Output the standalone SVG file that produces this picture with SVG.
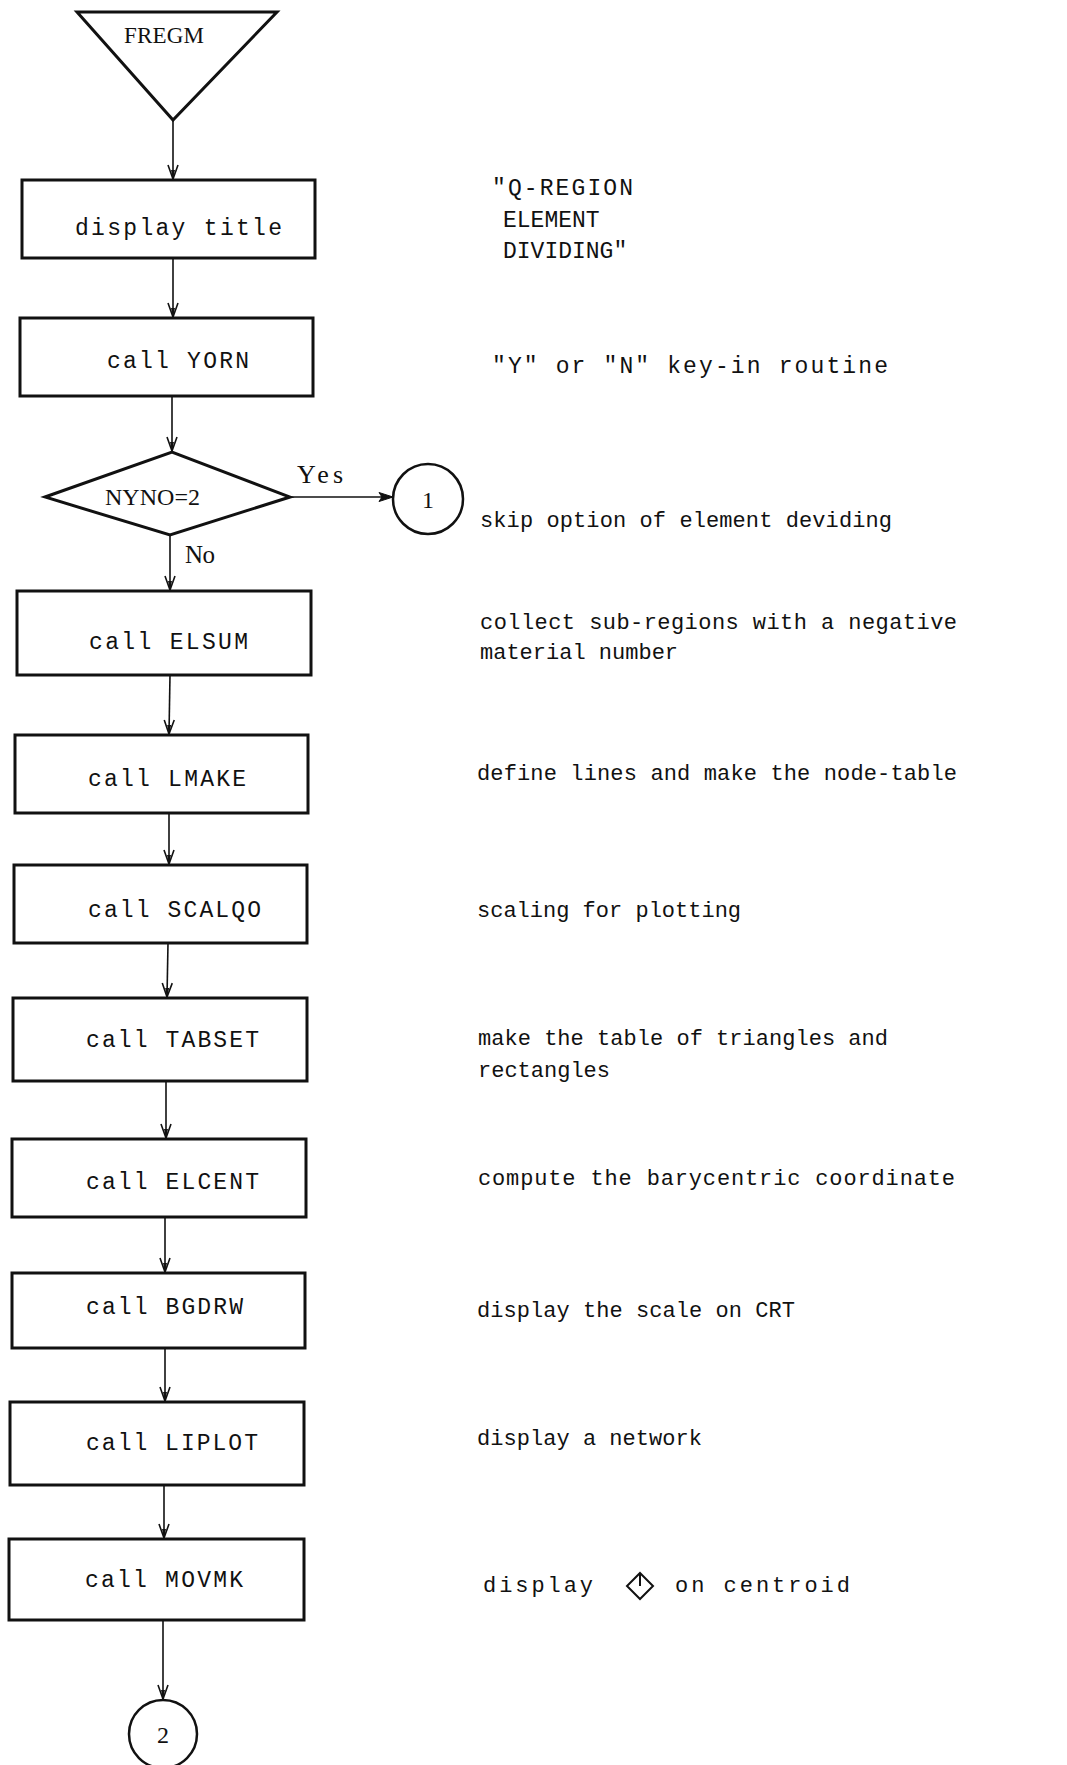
<svg xmlns="http://www.w3.org/2000/svg" width="1067" height="1765" viewBox="0 0 1067 1765">
<style>
.shape{fill:#fff;stroke:#111;stroke-width:3}
.circ{fill:#fff;stroke:#111;stroke-width:2.5}
.conn{fill:none;stroke:#111;stroke-width:1.6}
.mono{font-family:"Liberation Mono","DejaVu Sans Mono",monospace;fill:#111}
.box{font-size:23px}
.note{font-size:22px}
.noteW{font-size:23px}
.serif{font-family:"Liberation Serif","DejaVu Serif",serif;fill:#111}
</style>
<defs>
<marker id="arr" viewBox="0 0 16 12" refX="15" refY="6" markerWidth="16" markerHeight="12" markerUnits="userSpaceOnUse" orient="auto">
<path d="M1,1 L15,6 L1,11" fill="none" stroke="#111" stroke-width="1.6"/>
<path d="M6,4 L15,6 L6,8 Z" fill="#111"/>
</marker>
<marker id="arrR" viewBox="0 0 16 12" refX="15" refY="6" markerWidth="16" markerHeight="12" markerUnits="userSpaceOnUse" orient="auto">
<path d="M1,1.5 L15,6 L1,10.5 L4,6 Z" fill="#111" stroke="#111" stroke-width="1"/>
</marker>
</defs>
<rect width="1067" height="1765" fill="#fff"/>

<g id="connectors">
<line class="conn" x1="173" y1="120" x2="173" y2="179" marker-end="url(#arr)"/>
<line class="conn" x1="173" y1="258" x2="173" y2="317" marker-end="url(#arr)"/>
<line class="conn" x1="172" y1="396" x2="172" y2="451" marker-end="url(#arr)"/>
<line class="conn" x1="290" y1="497" x2="393" y2="497" marker-end="url(#arrR)"/>
<line class="conn" x1="170" y1="535" x2="170" y2="590" marker-end="url(#arr)"/>
<line class="conn" x1="170" y1="675" x2="169" y2="734" marker-end="url(#arr)"/>
<line class="conn" x1="169" y1="813" x2="169" y2="864" marker-end="url(#arr)"/>
<line class="conn" x1="168" y1="943" x2="167" y2="997" marker-end="url(#arr)"/>
<line class="conn" x1="166" y1="1081" x2="166" y2="1138" marker-end="url(#arr)"/>
<line class="conn" x1="165" y1="1217" x2="165" y2="1272" marker-end="url(#arr)"/>
<line class="conn" x1="165" y1="1348" x2="165" y2="1401" marker-end="url(#arr)"/>
<line class="conn" x1="164" y1="1485" x2="164" y2="1538" marker-end="url(#arr)"/>
<line class="conn" x1="163" y1="1620" x2="163" y2="1699" marker-end="url(#arr)"/>
<text class="serif" x="297" y="483" font-size="26" textLength="46">Yes</text>
<text class="serif" x="185" y="563" font-size="25" textLength="30">No</text>
</g>

<g id="start">
<polygon class="shape" points="77,12 277,12 173,120"/>
<text class="serif" x="124" y="43" font-size="23" textLength="80">FREGM</text>
</g>

<g id="display_title">
<rect class="shape" x="22" y="180" width="293" height="78"/>
<text class="mono box" x="75" y="235" textLength="207">display title</text>
</g>
<g id="note_title" class="mono noteW">
<text x="492" y="195" textLength="141">"Q-REGION</text>
<text x="503" y="227">ELEMENT</text>
<text x="503" y="258">DIVIDING"</text>
</g>

<g id="call_yorn">
<rect class="shape" x="20" y="318" width="293" height="78"/>
<text class="mono box" x="107" y="368" textLength="142">call YORN</text>
</g>
<text id="note_yorn" class="mono noteW" x="492" y="373" textLength="396">"Y" or "N" key-in routine</text>

<g id="decision">
<polygon class="shape" points="45,497 172,452 290,497 170,535"/>
<text class="serif" x="105" y="505" font-size="24" textLength="95">NYNO=2</text>
</g>

<g id="connector1">
<circle class="circ" cx="428" cy="499" r="35"/>
<text class="serif" x="428" y="508" font-size="24" text-anchor="middle">1</text>
</g>
<text id="note_skip" class="mono note" x="480" y="527" textLength="412">skip option of element deviding</text>

<g id="call_elsum">
<rect class="shape" x="17" y="591" width="294" height="84"/>
<text class="mono box" x="89" y="649" textLength="159">call ELSUM</text>
</g>
<g id="note_elsum" class="mono note">
<text x="480" y="629" textLength="477">collect sub-regions with a negative</text>
<text x="480" y="659">material number</text>
</g>

<g id="call_lmake">
<rect class="shape" x="15" y="735" width="293" height="78"/>
<text class="mono box" x="88" y="786" textLength="158">call LMAKE</text>
</g>
<text id="note_lmake" class="mono note" x="477" y="780" textLength="480">define lines and make the node-table</text>

<g id="call_scalqo">
<rect class="shape" x="14" y="865" width="293" height="78"/>
<text class="mono box" x="88" y="917" textLength="173">call SCALQO</text>
</g>
<text id="note_scalqo" class="mono note" x="477" y="917">scaling for plotting</text>

<g id="call_tabset">
<rect class="shape" x="13" y="998" width="294" height="83"/>
<text class="mono box" x="86" y="1047" textLength="173">call TABSET</text>
</g>
<g id="note_tabset" class="mono note">
<text x="478" y="1045" textLength="410">make the table of triangles and</text>
<text x="478" y="1077">rectangles</text>
</g>

<g id="call_elcent">
<rect class="shape" x="12" y="1139" width="294" height="78"/>
<text class="mono box" x="86" y="1189" textLength="173">call ELCENT</text>
</g>
<text id="note_elcent" class="mono note" x="478" y="1185" textLength="477">compute the barycentric coordinate</text>

<g id="call_bgdrw">
<rect class="shape" x="12" y="1273" width="293" height="75"/>
<text class="mono box" x="86" y="1314" textLength="157">call BGDRW</text>
</g>
<text id="note_bgdrw" class="mono note" x="477" y="1317" textLength="318">display the scale on CRT</text>

<g id="call_liplot">
<rect class="shape" x="10" y="1402" width="294" height="83"/>
<text class="mono box" x="86" y="1450" textLength="172">call LIPLOT</text>
</g>
<text id="note_liplot" class="mono note" x="477" y="1445" textLength="225">display a network</text>

<g id="call_movmk">
<rect class="shape" x="9" y="1539" width="295" height="81"/>
<text class="mono box" x="85" y="1587" textLength="158">call MOVMK</text>
</g>
<g id="note_movmk">
<text class="mono note" x="483" y="1592" textLength="110">display</text>
<polygon points="640,1573 653,1586 640,1599 627,1586" fill="none" stroke="#111" stroke-width="2"/>
<line x1="640" y1="1573" x2="640" y2="1586" stroke="#111" stroke-width="2"/>
<text class="mono note" x="675" y="1592" textLength="175">on centroid</text>
</g>

<g id="connector2">
<circle class="circ" cx="163" cy="1734" r="34"/>
<text class="serif" x="163" y="1743" font-size="24" text-anchor="middle">2</text>
</g>
</svg>
